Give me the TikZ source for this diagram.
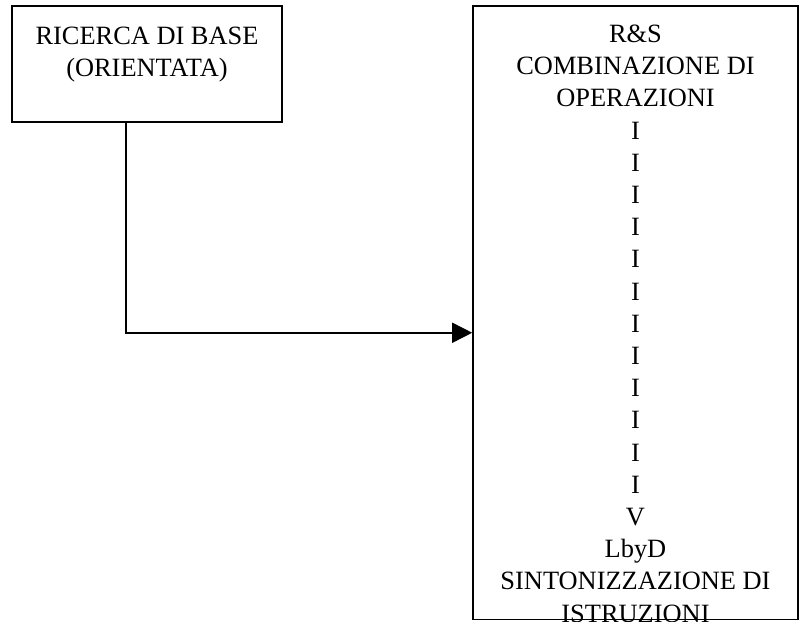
\documentclass[tikz,border=0pt]{standalone}
\usepackage{fontspec}
\setmainfont{Liberation Serif}
\usetikzlibrary{arrows.meta}
\begin{document}
\begin{tikzpicture}[x=0.75pt,y=-0.75pt,
  box/.style={draw, line width=1.2pt, rectangle, inner sep=0pt},
  lbl/.style={align=center, inner sep=0pt, font=\fontsize{19.8}{24.15}\selectfont},
  conn/.style={line width=1.2pt, -{Triangle[length=15pt,width=15pt]}}]
\useasboundingbox (0,0) rectangle (805,621);
\node[box, minimum width=202.5pt, minimum height=87pt] (lb) at (147,64) {};
\node[box, minimum width=243.75pt, minimum height=460.125pt] (rs) at (635.5,312.75) {};
\node[lbl, anchor=north] (lbt) at (147,27) {RICERCA DI BASE\\(ORIENTATA)};
\node[lbl, anchor=north] (rst) at (635.5,24.7) {R\&S\\COMBINAZIONE DI\\OPERAZIONI\\I\\I\\I\\I\\I\\I\\I\\I\\I\\I\\I\\I\\V\\LbyD\\SINTONIZZAZIONE DI\\ISTRUZIONI};
\draw[conn] ([xshift=86.25pt]lb.south west) |- ([yshift=-15pt]rs.west);
\end{tikzpicture}
\end{document}
